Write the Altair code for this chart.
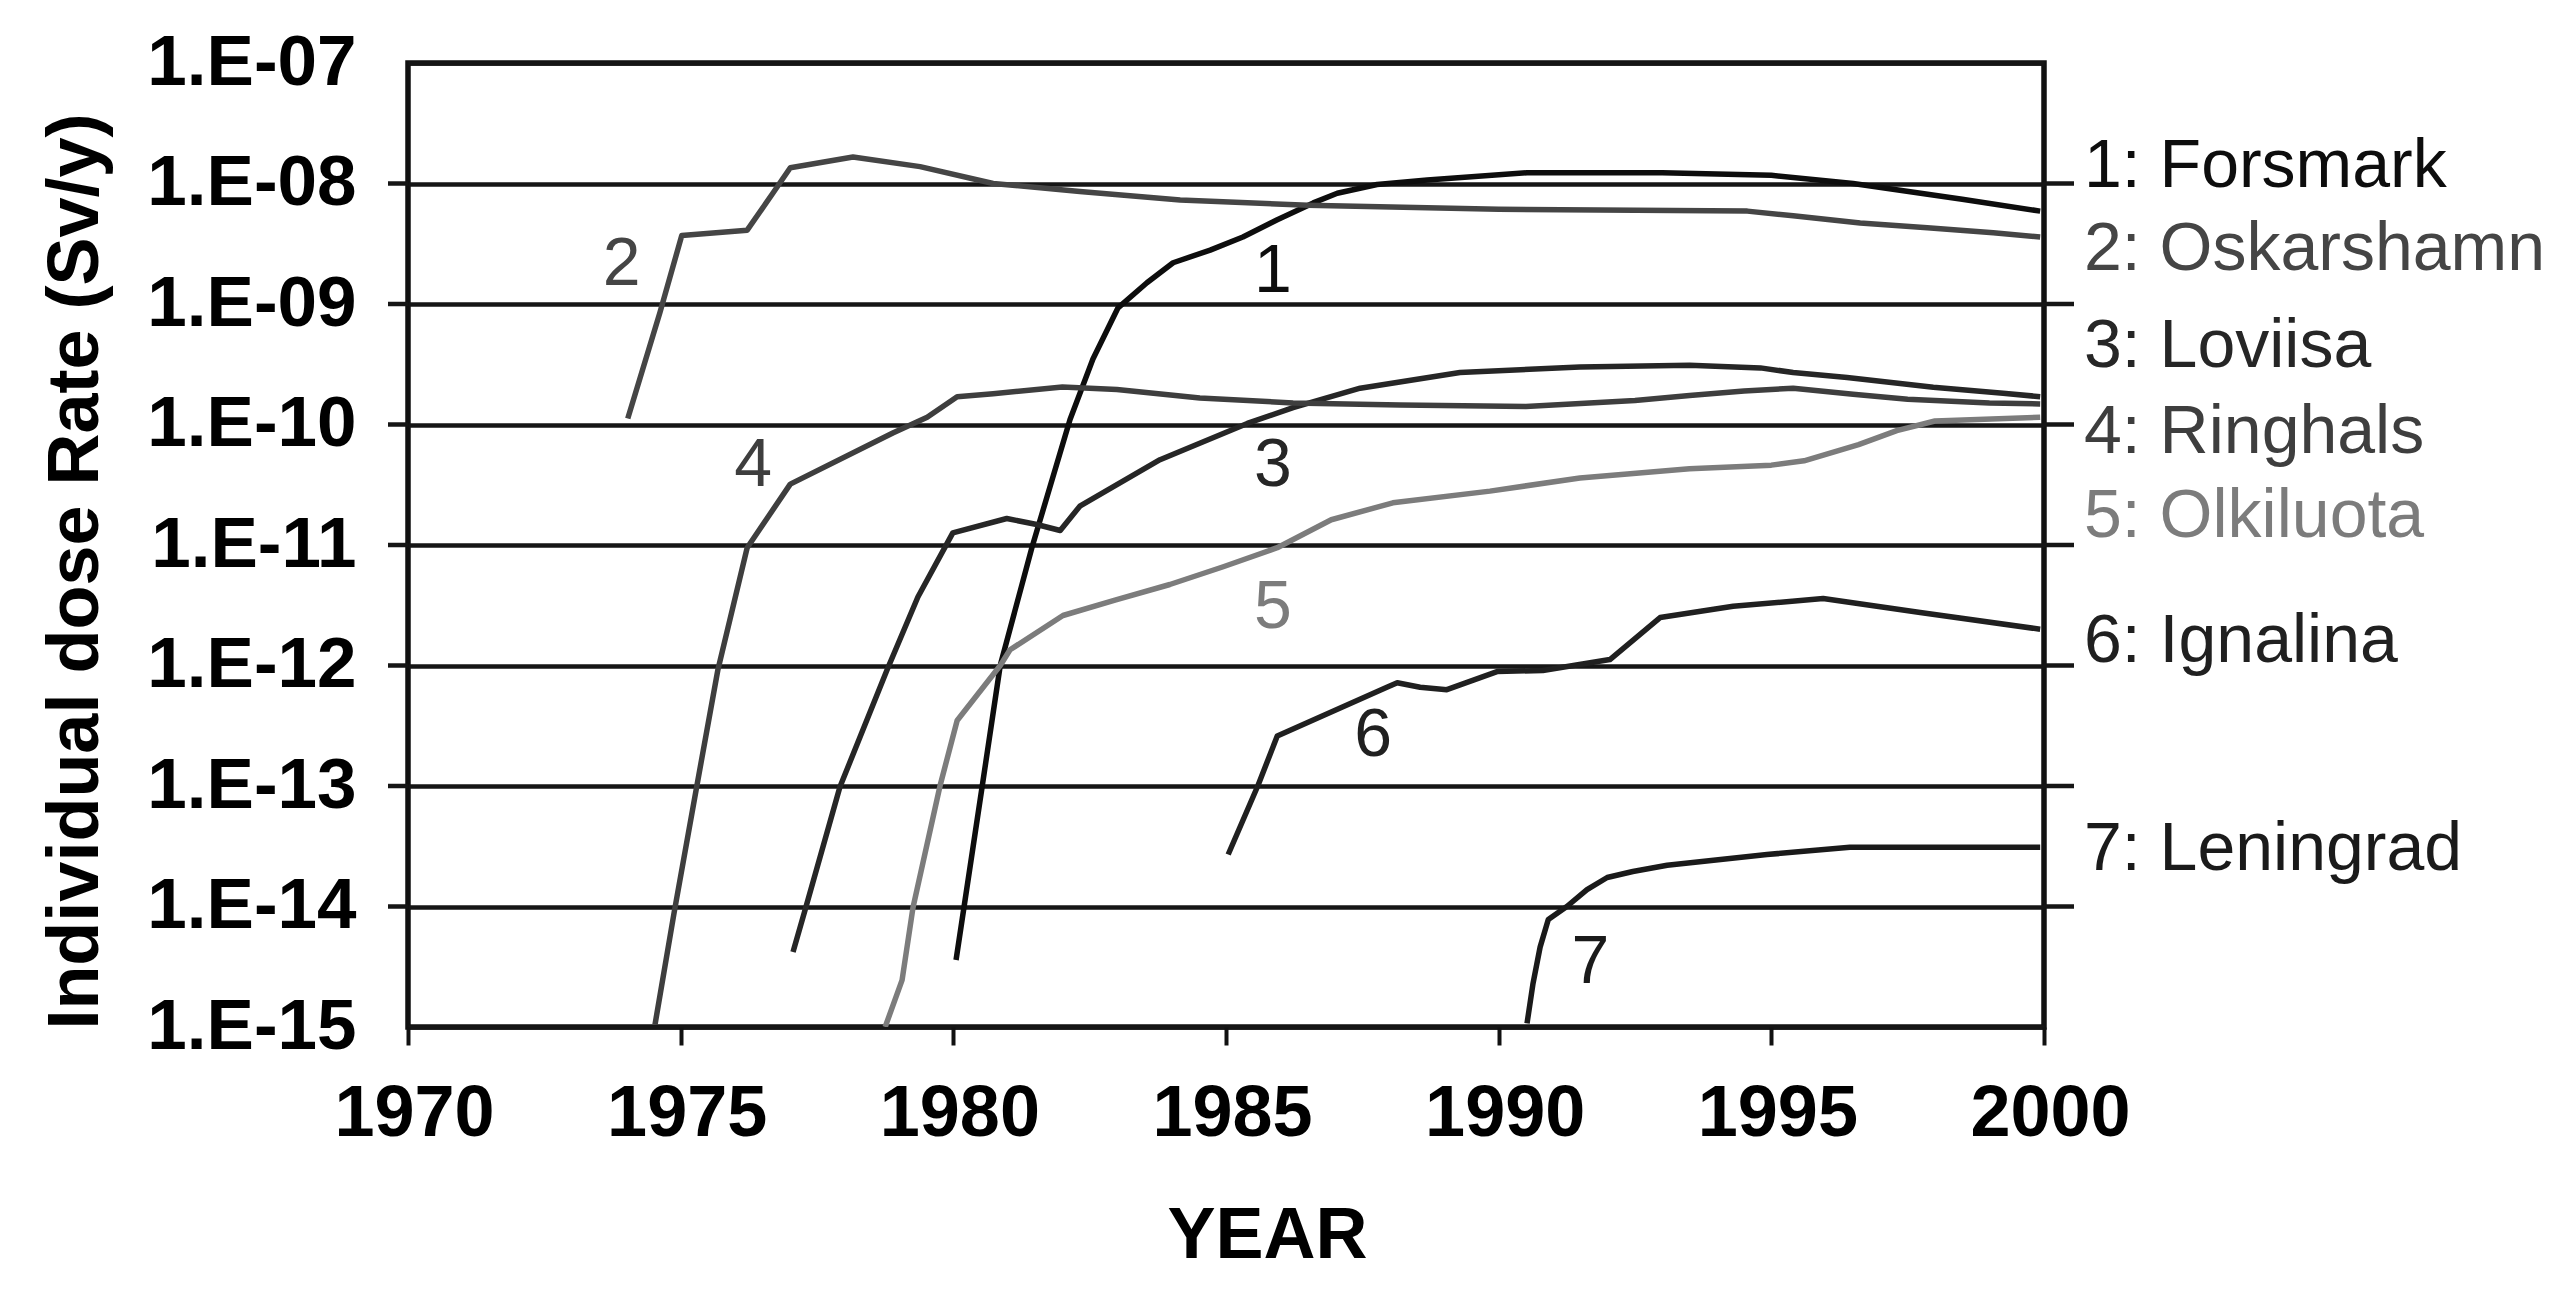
import altair as alt
import pandas as pd

# ---------------- data ----------------
stations = ["1: Forsmark", "2: Oskarshamn", "3: Loviisa", "4: Ringhals",
            "5: Olkiluota", "6: Ignalina", "7: Leningrad"]
numbers = ["1", "2", "3", "4", "5", "6", "7"]

forsmark_years = [1980.05, 1980.53, 1980.86, 1981.44, 1982.14, 1982.56, 1983.02, 1983.55,
                  1984.03, 1984.71, 1985.31, 1985.94, 1986.60, 1987.04, 1987.77, 1988.69,
                  1990.52, 1993.0, 1995.0, 1996.5, 1998.5, 1999.93]
forsmark_values = [3.6e-15, 1.0e-13, 1.0e-12, 9.5e-12, 1.1e-10, 3.5e-10, 9.3e-10, 1.5e-9,
                   2.2e-9, 2.8e-9, 3.6e-9, 5.0e-9, 6.9e-9, 8.3e-9, 9.8e-9, 1.07e-8,
                   1.23e-8, 1.23e-8, 1.17e-8, 1.0e-8, 7.4e-9, 5.9e-9]

oskarshamn_years = [1974.03, 1974.62, 1975.02, 1976.22, 1976.69, 1977.01, 1978.16, 1979.39,
                    1980.73, 1982.32, 1984.16, 1986.5, 1990.0, 1994.56, 1995.40, 1996.63,
                    1997.86, 1999.07, 1999.93]
oskarshamn_values = [1.12e-10, 8.5e-10, 3.7e-9, 4.1e-9, 8.3e-9, 1.35e-8, 1.66e-8, 1.38e-8,
                     1.0e-8, 8.6e-9, 7.3e-9, 6.6e-9, 6.1e-9, 5.9e-9, 5.4e-9, 4.7e-9,
                     4.3e-9, 3.9e-9, 3.6e-9]

loviisa_years = [1977.06, 1977.28, 1977.92, 1978.78, 1979.35, 1979.99, 1980.98, 1981.53,
                 1981.96, 1982.32, 1983.79, 1985.39, 1986.23, 1987.46, 1989.29, 1991.49,
                 1993.5, 1994.8, 1995.40, 1996.39, 1997.97, 1999.25, 1999.93]
loviisa_values = [4.2e-15, 9.3e-15, 9.8e-14, 9.1e-13, 3.7e-12, 1.26e-11, 1.66e-11, 1.48e-11,
                  1.32e-11, 2.1e-11, 5.1e-11, 1.02e-10, 1.38e-10, 2.0e-10, 2.7e-10, 3.0e-10,
                  3.1e-10, 2.95e-10, 2.7e-10, 2.45e-10, 2.04e-10, 1.82e-10, 1.7e-10]

ringhals_years = [1974.53, 1974.88, 1975.28, 1975.68, 1976.22, 1977.01, 1978.89, 1979.52,
                  1980.07, 1980.73, 1982.0, 1983.0, 1984.52, 1986.23, 1988.19, 1990.5,
                  1992.5, 1993.5, 1994.5, 1995.4, 1996.5, 1997.5, 1999.0, 1999.93]
ringhals_values = [1.05e-15, 8.9e-15, 9.1e-14, 9.1e-13, 9.5e-12, 3.2e-11, 8.5e-11, 1.15e-10,
                   1.7e-10, 1.8e-10, 2.05e-10, 1.95e-10, 1.66e-10, 1.51e-10, 1.45e-10, 1.41e-10,
                   1.58e-10, 1.74e-10, 1.9e-10, 2.0e-10, 1.78e-10, 1.62e-10, 1.51e-10, 1.48e-10]

olkiluota_years = [1978.75, 1979.06, 1979.26, 1979.76, 1980.07, 1980.86, 1981.04, 1982.01,
                   1982.98, 1983.97, 1984.95, 1985.94, 1986.93, 1988.06, 1989.84, 1991.49,
                   1993.5, 1995.0, 1995.6, 1996.6, 1997.3, 1998.0, 1999.93]
olkiluota_values = [1.0e-15, 2.45e-15, 9.8e-15, 1.02e-13, 3.5e-13, 1.0e-12, 1.35e-12, 2.6e-12,
                    3.5e-12, 4.7e-12, 6.6e-12, 9.5e-12, 1.62e-11, 2.24e-11, 2.8e-11, 3.6e-11,
                    4.3e-11, 4.6e-11, 5.0e-11, 6.8e-11, 8.9e-11, 1.07e-10, 1.15e-10]

ignalina_years = [1985.04, 1985.59, 1985.94, 1987.95, 1988.14, 1988.56, 1989.05, 1989.97,
                  1990.81, 1992.04, 1992.96, 1994.30, 1995.95, 1997.73, 1999.93]
ignalina_values = [2.7e-14, 1.02e-13, 2.6e-13, 6.6e-13, 7.2e-13, 6.6e-13, 6.3e-13, 8.9e-13,
                   9.1e-13, 1.12e-12, 2.5e-12, 3.1e-12, 3.6e-12, 2.75e-12, 2.0e-12]

leningrad_years = [1990.52, 1990.63, 1990.76, 1990.91, 1991.25, 1991.62, 1991.99, 1992.46,
                   1993.09, 1994.92, 1996.44, 1999.93]
leningrad_values = [1.07e-15, 2.3e-15, 4.6e-15, 7.8e-15, 1.0e-14, 1.38e-14, 1.74e-14, 1.95e-14,
                    2.2e-14, 2.7e-14, 3.1e-14, 3.1e-14]

# axis ticks / labels
xtick_values = [1970, 1975, 1980, 1985, 1990, 1995, 2000]
ytick_values = [1e-7, 1e-8, 1e-9, 1e-10, 1e-11, 1e-12, 1e-13, 1e-14, 1e-15]
ytick_labels = ["1.E-07", "1.E-08", "1.E-09", "1.E-10", "1.E-11",
                "1.E-12", "1.E-13", "1.E-14", "1.E-15"]
stub_values = [1e-8, 1e-9, 1e-10, 1e-11, 1e-12, 1e-13, 1e-14]

# annotation anchors (data units)
number_years = [1985.86, 1973.92, 1985.86, 1976.33, 1985.86, 1987.70, 1991.68]
number_values = [1.86e-9, 2.1e-9, 4.5e-11, 4.5e-11, 3.0e-12, 2.6e-13, 3.4e-15]
label_anchor_values = [9.35e-9, 1.91e-9, 3.0e-10, 5.8e-11, 1.16e-11, 1.07e-12, 2.0e-14]

# styles
colors = ["#0d0d0d", "#454545", "#262626", "#3e3e3e", "#7c7c7c", "#202020", "#1a1a1a"]
FONT = "Liberation Sans"

# ---------------- build tables ----------------
series = [
    (forsmark_years, forsmark_values),
    (oskarshamn_years, oskarshamn_values),
    (loviisa_years, loviisa_values),
    (ringhals_years, ringhals_values),
    (olkiluota_years, olkiluota_values),
    (ignalina_years, ignalina_values),
    (leningrad_years, leningrad_values),
]
rows = []
for name, (ys, vs) in zip(stations, series):
    for y, v in zip(ys, vs):
        rows.append({"station": name, "year": y, "value": v})
df = pd.DataFrame(rows)

df_num = pd.DataFrame({"station": stations, "num": numbers,
                       "year": number_years, "value": number_values})
df_lab = pd.DataFrame({"station": stations, "value": label_anchor_values})
df_stub = pd.DataFrame({"value": stub_values})

# ---------------- scales / encodings ----------------
xscale = alt.Scale(domain=[1970, 2000], nice=False, zero=False)
yscale = alt.Scale(type="log", domain=[1e-15, 1e-7], nice=False)
cscale = alt.Scale(domain=stations, range=colors)

label_expr = "[" + ",".join("'%s'" % s for s in ytick_labels) + "][round(-log(datum.value)/LN10) - 7]"

x_axis = alt.Axis(
    values=xtick_values, format="d", grid=False, domain=False,
    ticks=True, tickSize=18, tickWidth=4, tickColor="#111111",
    labelFont=FONT, labelFontSize=72, labelFontWeight="bold", labelColor="#000000",
    labelPadding=33, labelOffset=6, labelFlush=False, labelOverlap=False, labelLimit=0,
    title="YEAR", titleFont=FONT, titleFontSize=72, titleFontWeight="bold",
    titleColor="#000000", titleX=859, titleY=230, titleAlign="center",
    titleBaseline="alphabetic", titleLimit=0,
)
y_axis = alt.Axis(
    values=ytick_values, labelExpr=label_expr, domain=False, ticks=False,
    grid=True, gridColor="#161616", gridWidth=4.5, gridOpacity=1,
    labelFont=FONT, labelFontSize=71, labelFontWeight="bold", labelColor="#000000",
    labelPadding=52, labelOverlap=False, labelFlush=False, labelLimit=0,
    title="Individual dose Rate (Sv/y)", titleFont=FONT, titleFontSize=72,
    titleFontWeight="bold", titleColor="#000000", titleAngle=270,
    titleX=-311, titleY=508, titleAlign="center", titleBaseline="alphabetic",
    titleLimit=0,
)

X = alt.X("year:Q", scale=xscale, axis=x_axis)
Y = alt.Y("value:Q", scale=yscale, axis=y_axis)
C = alt.Color("station:N", scale=cscale, legend=None)

lines = alt.Chart(df).mark_line(strokeWidth=5.5, clip=True, strokeJoin="round").encode(
    x=X, y=Y, color=C, order="year:Q"
)

numbers_layer = alt.Chart(df_num).mark_text(
    font=FONT, fontSize=68, align="center", baseline="middle"
).encode(x=X, y=Y, text="num:N", color=C)

right_labels = alt.Chart(df_lab).mark_text(
    font=FONT, fontSize=68, align="left", baseline="alphabetic"
).encode(x=alt.value(1676), y=Y, text="station:N", color=C)

right_stubs = alt.Chart(df_stub).mark_rule(color="#161616", strokeWidth=4.5).encode(
    y=Y, x=alt.value(1636), x2=alt.value(1666)
)
left_stubs = alt.Chart(df_stub).mark_rule(color="#161616", strokeWidth=4.5).encode(
    y=Y, x=alt.value(-20), x2=alt.value(0)
)

chart = alt.layer(left_stubs, right_stubs, lines, numbers_layer, right_labels).properties(
    width=1636, height=964,
    padding={"left": 400, "top": 55, "right": 515, "bottom": 262},
    autosize=alt.AutoSizeParams(type="none"),
    background="white",
).configure_view(stroke="#111111", strokeWidth=5.5)

chart.save("out.html", embed_options={"renderer": "svg", "actions": False})
